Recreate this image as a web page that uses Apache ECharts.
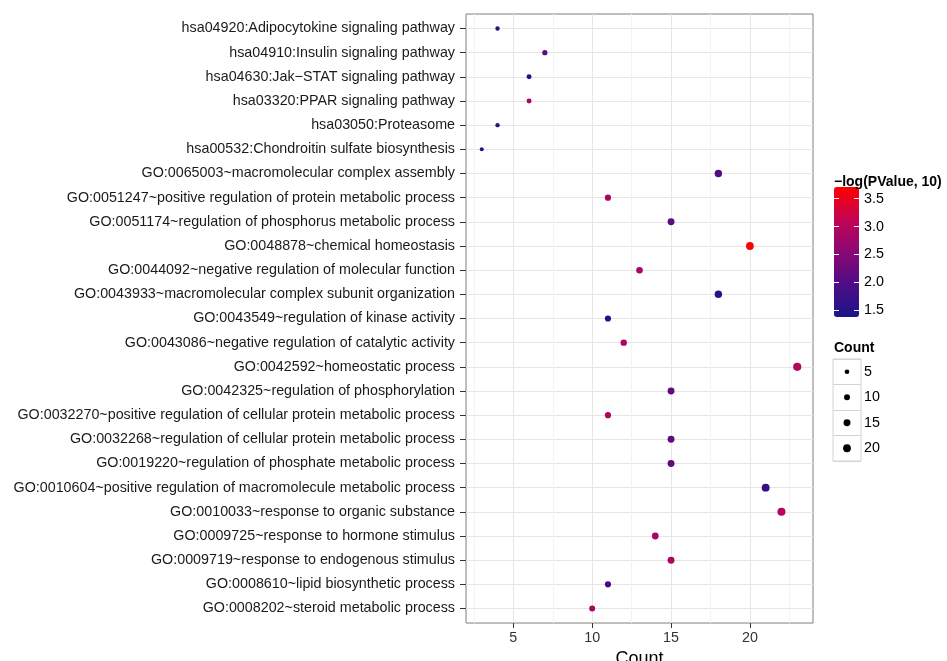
<!DOCTYPE html>
<html><head><meta charset="utf-8">
<script src="https://cdn.jsdelivr.net/npm/echarts@6/dist/echarts.min.js"></script>
<style>html,body{margin:0;padding:0;background:#fff}#c{width:947px;height:661px}</style>
</head><body><div id="c"></div>
<script>
const categories = [
  'hsa04920:Adipocytokine signaling pathway',
  'hsa04910:Insulin signaling pathway',
  'hsa04630:Jak\u2212STAT signaling pathway',
  'hsa03320:PPAR signaling pathway',
  'hsa03050:Proteasome',
  'hsa00532:Chondroitin sulfate biosynthesis',
  'GO:0065003~macromolecular complex assembly',
  'GO:0051247~positive regulation of protein metabolic process',
  'GO:0051174~regulation of phosphorus metabolic process',
  'GO:0048878~chemical homeostasis',
  'GO:0044092~negative regulation of molecular function',
  'GO:0043933~macromolecular complex subunit organization',
  'GO:0043549~regulation of kinase activity',
  'GO:0043086~negative regulation of catalytic activity',
  'GO:0042592~homeostatic process',
  'GO:0042325~regulation of phosphorylation',
  'GO:0032270~positive regulation of cellular protein metabolic process',
  'GO:0032268~regulation of cellular protein metabolic process',
  'GO:0019220~regulation of phosphate metabolic process',
  'GO:0010604~positive regulation of macromolecule metabolic process',
  'GO:0010033~response to organic substance',
  'GO:0009725~response to hormone stimulus',
  'GO:0009719~response to endogenous stimulus',
  'GO:0008610~lipid biosynthetic process',
  'GO:0008202~steroid metabolic process'
];
const counts = [4, 7, 6, 6, 4, 3, 18, 11, 15, 20, 13, 18, 11, 12, 23, 15, 11, 15, 15, 21, 22, 14, 15, 11, 10];
const negLogP = [1.42, 2.15, 1.45, 2.85, 1.6, 1.38, 1.95, 2.85, 2.15, 3.71, 2.85, 1.5, 1.42, 2.9, 3.0, 2.15, 2.9, 2.15, 2.15, 1.65, 3.0, 2.85, 2.9, 1.8, 2.85];
const colorTicks = [1.5, 2.0, 2.5, 3.0, 3.5];
const countTicks = [5, 10, 15, 20];
const xTicks = [5, 10, 15, 20];
const xMinor = [2.5, 7.5, 12.5, 17.5, 22.5];

const idx = categories.map((c, i) => i);
const cMin = Math.min(...negLogP), cMax = Math.max(...negLogP);
const nMin = Math.min(...counts), nMax = Math.max(...counts);
function sizeOf(n) {
  const t = (Math.sqrt(n) - Math.sqrt(nMin)) / (Math.sqrt(nMax) - Math.sqrt(nMin));
  return 4 + t * 4.2;
}
const font = '"Liberation Sans", Arial, Helvetica, sans-serif';
const chart = echarts.init(document.getElementById('c'), null, {renderer: 'canvas'});
chart.setOption({
  animation: false,
  backgroundColor: '#fff',
  textStyle: {fontFamily: font},
  title: [
    {text: '\u2212log(PValue, 10)', left: 834, top: 175, padding: 0,
     textStyle: {fontSize: 14, fontWeight: 'bold', color: '#000', fontFamily: font}},
    {text: 'Count', left: 834, top: 341, padding: 0,
     textStyle: {fontSize: 14, fontWeight: 'bold', color: '#000', fontFamily: font}}
  ],
  grid: [
    {left: 466, top: 14, width: 347, height: 609, show: true, backgroundColor: '#fff', borderColor: '#7f7f7f', borderWidth: 1, outerBoundsMode: 'none', containLabel: false},
    {left: 834, top: 187, width: 25, height: 130, show: false, outerBoundsMode: 'none', containLabel: false},
    {left: 833, top: 359, width: 28, height: 102, show: true, backgroundColor: '#fff', borderColor: '#d4d4d4', borderWidth: 1, outerBoundsMode: 'none', containLabel: false}
  ],
  xAxis: [
    {gridIndex: 0, type: 'value', min: 2, max: 24, name: 'Count', nameLocation: 'middle', nameGap: 22,
     nameTextStyle: {fontSize: 18, color: '#000', fontFamily: font},
     axisLine: {show: false, onZero: false},
     axisTick: {show: true, length: 5, customValues: xTicks, lineStyle: {color: '#333'}},
     axisLabel: {customValues: xTicks, fontSize: 14.3, color: '#333', margin: 8, fontFamily: font},
     splitLine: {show: true, lineStyle: {color: '#e6e6e6', width: 1}}},
    {gridIndex: 1, type: 'value', min: 0, max: 1, show: false},
    {gridIndex: 2, type: 'category', data: ['k'], show: false}
  ],
  yAxis: [
    {gridIndex: 0, type: 'value', min: -0.6, max: categories.length - 0.4, inverse: true,
     axisLine: {show: false, onZero: false},
     axisTick: {show: true, length: 6, customValues: idx, lineStyle: {color: '#333'}},
     axisLabel: {customValues: idx, formatter: v => categories[v], fontSize: 14.3, color: '#1a1a1a', margin: 11, fontFamily: font},
     splitLine: {show: true, lineStyle: {color: '#e6e6e6', width: 1}}},
    {gridIndex: 1, type: 'value', min: cMin, max: cMax, position: 'left', z: 10,
     axisLine: {show: false, onZero: false},
     axisTick: {show: true, inside: true, length: 5, customValues: colorTicks, lineStyle: {color: '#fff', width: 1}},
     axisLabel: {show: false}, splitLine: {show: false}},
    {gridIndex: 1, type: 'value', min: cMin, max: cMax, position: 'right', z: 10,
     axisLine: {show: false, onZero: false},
     axisTick: {show: true, inside: true, length: 5, customValues: colorTicks, lineStyle: {color: '#fff', width: 1}},
     axisLabel: {customValues: colorTicks, formatter: v => v.toFixed(1), fontSize: 14.3, color: '#000', margin: 5, fontFamily: font},
     splitLine: {show: false}},
    {gridIndex: 2, type: 'category', data: countTicks.map(String), inverse: true, position: 'right',
     axisLine: {show: false, onZero: false}, axisTick: {show: false},
     axisLabel: {interval: 0, fontSize: 14.3, color: '#000', margin: 3, fontFamily: font},
     splitLine: {show: true, interval: 0, lineStyle: {color: '#d4d4d4', width: 1}}}
  ],
  visualMap: {
    type: 'continuous', seriesIndex: 0, dimension: 2, min: cMin, max: cMax,
    left: 834, top: 187, itemWidth: 25, itemHeight: 130, padding: 0,
    calculable: false, realtime: false, z: 5,
    inRange: {color: ['#1c1489', '#4e0d85', '#8a0874', '#c20454', '#ff0000']}
  },
  series: [
    {type: 'scatter', xAxisIndex: 0, yAxisIndex: 0, z: 3,
     data: categories.map((c, i) => [counts[i], i, negLogP[i]]),
     symbolSize: d => sizeOf(d[0]),
     itemStyle: {opacity: 1},
     emphasis: {disabled: true},
     markLine: {
       silent: true, symbol: ['none', 'none'], label: {show: false}, z: 1,
       emphasis: {disabled: true},
       lineStyle: {color: '#f3f3f3', width: 1, type: 'solid'},
       data: xMinor.map(v => ({xAxis: v}))
     }},
    {type: 'scatter', xAxisIndex: 2, yAxisIndex: 3,
     data: countTicks.map(n => ['k', String(n), n]),
     symbolSize: d => sizeOf(d[2]),
     itemStyle: {color: '#000', opacity: 1},
     emphasis: {disabled: true}}
  ]
});
</script></body></html>
